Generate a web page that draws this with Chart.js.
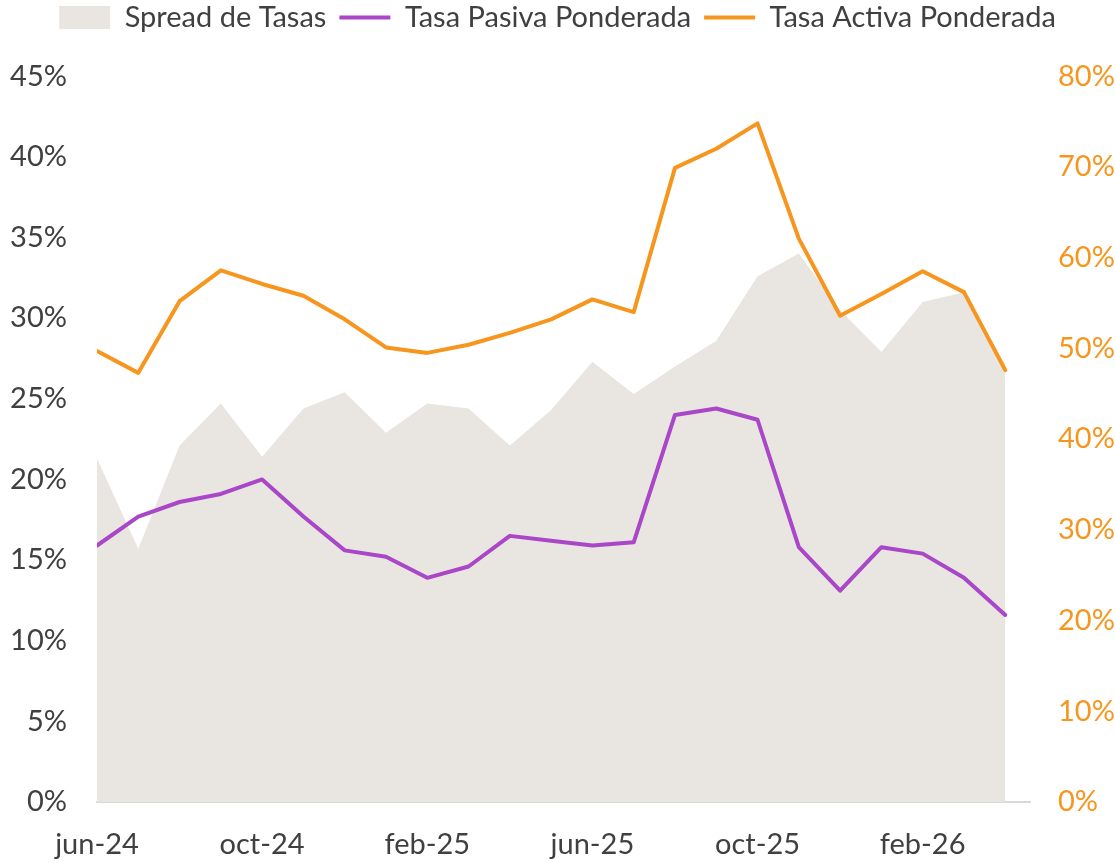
<!DOCTYPE html>
<html>
<head>
<meta charset="utf-8">
<script src="https://cdn.jsdelivr.net/npm/chart.js@4"></script>
<style>
  html, body { margin: 0; padding: 0; background: #fff; }
  #wrap { width: 1115px; height: 863px; }
</style>
</head>
<body>
<div id="wrap"><canvas id="grafico"></canvas></div>
<script>
// Meses (jun-24 a abr-26)
const meses = ["jun-24","jul-24","ago-24","sep-24","oct-24","nov-24","dic-24","ene-25",
               "feb-25","mar-25","abr-25","may-25","jun-25","jul-25","ago-25","sep-25",
               "oct-25","nov-25","dic-25","ene-26","feb-26","mar-26","abr-26"];
// Etiquetas del eje X cada 4 meses
const etiquetasX = {0:"jun-24", 4:"oct-24", 8:"feb-25", 12:"jun-25", 16:"oct-25", 20:"feb-26"};

// Eje izquierdo (%)
const spread = [21.3,15.7,22.1,24.7,21.4,24.4,25.4,22.9,24.7,24.4,22.1,24.3,
                27.3,25.3,27.0,28.6,32.6,34.0,30.5,27.9,31.0,31.6,27.1];
const pasiva = [15.9,17.7,18.6,19.1,20.0,17.7,15.6,15.2,13.9,14.6,16.5,16.2,
                15.9,16.1,24.0,24.4,23.7,15.8,13.1,15.8,15.4,13.9,11.6];
// Eje derecho (%)
const activa = [49.7,47.3,55.2,58.6,57.1,55.8,53.2,50.1,49.5,50.4,51.7,53.2,
                55.4,54.0,69.9,72.0,74.8,62.1,53.6,56.0,58.5,56.2,47.6];

const FUENTE = "Lato, 'Noto Sans', sans-serif";
const TAM    = 29;
const GRIS   = "#404040";
const NARANJA = "#F7961E";
const MORADO  = "#AA46C8";
const AREA    = "#E9E6E2";

const puntos = arr => arr.map((v, i) => ({ x: i, y: v }));

new Chart(document.getElementById('grafico'), {
    type: 'line',
    data: {
        datasets: [{
            label: 'Spread de Tasas',
            data: puntos(spread),
            yAxisID: 'y',
            fill: 'origin',
            backgroundColor: AREA,
            borderColor: AREA,
            borderWidth: 0,
            pointRadius: 0,
            pointStyle: 'rect',
            tension: 0
        }, {
            label: 'Tasa Pasiva Ponderada',
            data: puntos(pasiva),
            yAxisID: 'y',
            borderColor: MORADO,
            backgroundColor: MORADO,
            borderWidth: 4,
            pointRadius: 0,
            pointStyle: 'line',
            borderJoinStyle: 'round',
            borderCapStyle: 'round',
            tension: 0
        }, {
            label: 'Tasa Activa Ponderada',
            data: puntos(activa),
            yAxisID: 'y2',
            borderColor: NARANJA,
            backgroundColor: NARANJA,
            borderWidth: 4,
            pointRadius: 0,
            pointStyle: 'line',
            borderJoinStyle: 'round',
            borderCapStyle: 'round',
            tension: 0
        }]
    },
    options: {
        responsive: true,
        maintainAspectRatio: false,
        animation: false,
        layout: { padding: { top: -10, left: 0, right: 0, bottom: 0 } },
        plugins: {
            filler: { drawTime: 'beforeDatasetsDraw' },
            tooltip: { enabled: false },
            // espaciador entre la leyenda y el área del gráfico
            title: {
                display: true,
                text: '',
                weight: 500,
                font: { size: 1 },
                padding: { top: 0, bottom: 33 }
            },
            legend: {
                position: 'top',
                labels: {
                    usePointStyle: true,
                    pointStyleWidth: 51,
                    boxHeight: 23,
                    padding: 13,
                    color: GRIS,
                    font: { family: FUENTE, size: TAM }
                }
            }
        },
        scales: {
            x: {
                type: 'linear',
                min: 0,
                max: 22.6,
                grid: { display: false, drawTicks: false },
                border: { display: true, color: '#D9D9D9', width: 2 },
                afterFit: s => { s.height = 61; },
                afterBuildTicks: s => {
                    s.ticks = Object.keys(etiquetasX).map(k => ({ value: Number(k) }));
                },
                ticks: {
                    autoSkip: false,
                    maxRotation: 0,
                    padding: 25,
                    color: GRIS,
                    font: { family: FUENTE, size: TAM },
                    callback: v => etiquetasX[v] || ''
                }
            },
            y: {
                position: 'left',
                min: 0,
                max: 45,
                grid: { display: false, drawTicks: false },
                border: { display: false },
                afterFit: s => { s.width = 97; },
                ticks: {
                    stepSize: 5,
                    padding: 30,
                    color: GRIS,
                    font: { family: FUENTE, size: TAM },
                    callback: v => v + '%'
                }
            },
            y2: {
                position: 'right',
                min: 0,
                max: 80,
                grid: { display: false, drawTicks: false },
                border: { display: false },
                afterFit: s => { s.width = 85; },
                ticks: {
                    stepSize: 10,
                    padding: 28,
                    color: NARANJA,
                    font: { family: FUENTE, size: TAM },
                    callback: v => v + '%'
                }
            }
        }
    }
});
</script>
</body>
</html>
